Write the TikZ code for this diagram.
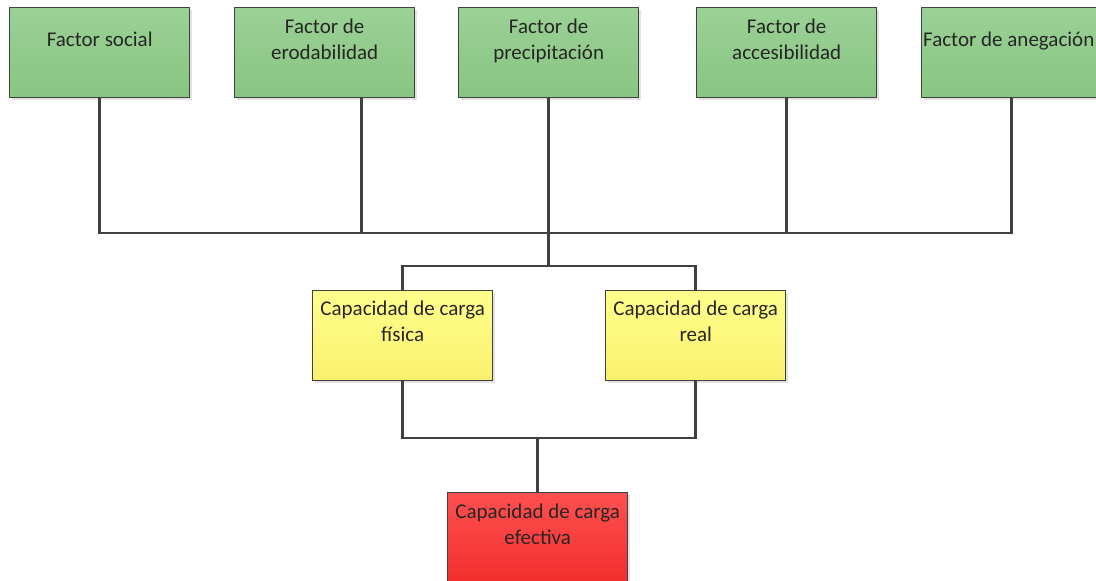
\documentclass[tikz,border=0pt]{standalone}
\usepackage{fontspec}
\setmainfont{Carlito}
\usetikzlibrary{shadows}
\definecolor{wirecol}{HTML}{404040}
\definecolor{greentop}{HTML}{9BD196}
\definecolor{greenbot}{HTML}{88C582}
\definecolor{yellowtop}{HTML}{FFFF8C}
\definecolor{yellowbot}{HTML}{FAF06E}
\definecolor{redtop}{HTML}{FF5050}
\definecolor{redbot}{HTML}{F22E2E}
\tikzset{
  box/.style={draw=wirecol, line width=1.4pt, minimum width=180pt, minimum height=90pt,
    anchor=north west, inner sep=0pt,
    drop shadow={shadow xshift=2.5pt, shadow yshift=-2.5pt, fill=black!22}},
  greenbox/.style={box, top color=greentop, bottom color=greenbot},
  yellowbox/.style={box, top color=yellowtop, bottom color=yellowbot},
  redbox/.style={box, top color=redtop, bottom color=redbot},
  lbl/.style={font=\fontsize{21}{26}\selectfont, text=black!85, align=center, inner sep=0pt, anchor=center},
  wire/.style={draw=wirecol, line width=2.8pt, line cap=rect}
}
\begin{document}
\begin{tikzpicture}[x=1pt, y=-1pt]
\useasboundingbox (0,0) rectangle (1096,581);
\clip (0,0) rectangle (1096,581);
\fill[white] (0,0) rectangle (1096,581);

% factor boxes
\node[greenbox] (soc) at (9,7) {};
\node[greenbox] (ero) at (234,7) {};
\node[greenbox] (pre) at (458,7) {};
\node[greenbox] (acc) at (696,7) {};
\node[greenbox] (ane) at (921,7) {};
\node[lbl] (socT) at ([yshift=-34pt]soc.north) {\strut Factor social\strut};
\node[lbl] (eroT) at ([yshift=-34pt]ero.north) {\strut Factor de\\erodabilidad\strut};
\node[lbl] (preT) at ([yshift=-34pt]pre.north) {\strut Factor de\\precipitación\strut};
\node[lbl] (accT) at ([yshift=-34pt]acc.north) {\strut Factor de\\accesibilidad\strut};
\node[lbl, anchor=west] (aneT) at ([xshift=2pt,yshift=-34pt]ane.north west) {\strut Factor de anegación\strut};

% capacity boxes
\node[yellowbox] (fis) at (312,290) {};
\node[yellowbox] (rea) at (605,290) {};
\node[redbox] (efe) at (447,492) {};
\node[lbl] (fisT) at ([yshift=-33pt]fis.north) {\strut Capacidad de carga\\física\strut};
\node[lbl] (reaT) at ([yshift=-33pt]rea.north) {\strut Capacidad de carga\\real\strut};
\node[lbl] (efeT) at ([yshift=-34pt]efe.north) {\strut Capacidad de carga\\efectiva\strut};

% junction levels
\coordinate (j1) at (pre.south |- 0,233);
\coordinate (j2) at (pre.south |- 0,266);
\coordinate (j3) at (efe.north |- 0,438);
\coordinate (eroOut) at ([xshift=37pt]ero.south);

% connectors
\draw[wire] (soc.south) |- (j1) -| (ane.south);
\draw[wire] (eroOut) -- (eroOut |- j1);
\draw[wire] (acc.south) -- (acc.south |- j1);
\draw[wire] (pre.south) -- (j2);
\draw[wire] (fis.north) |- (j2) -| (rea.north);
\draw[wire] (fis.south) |- (j3) -| (rea.south);
\draw[wire] (j3) -- (efe.north);
\end{tikzpicture}
\end{document}
